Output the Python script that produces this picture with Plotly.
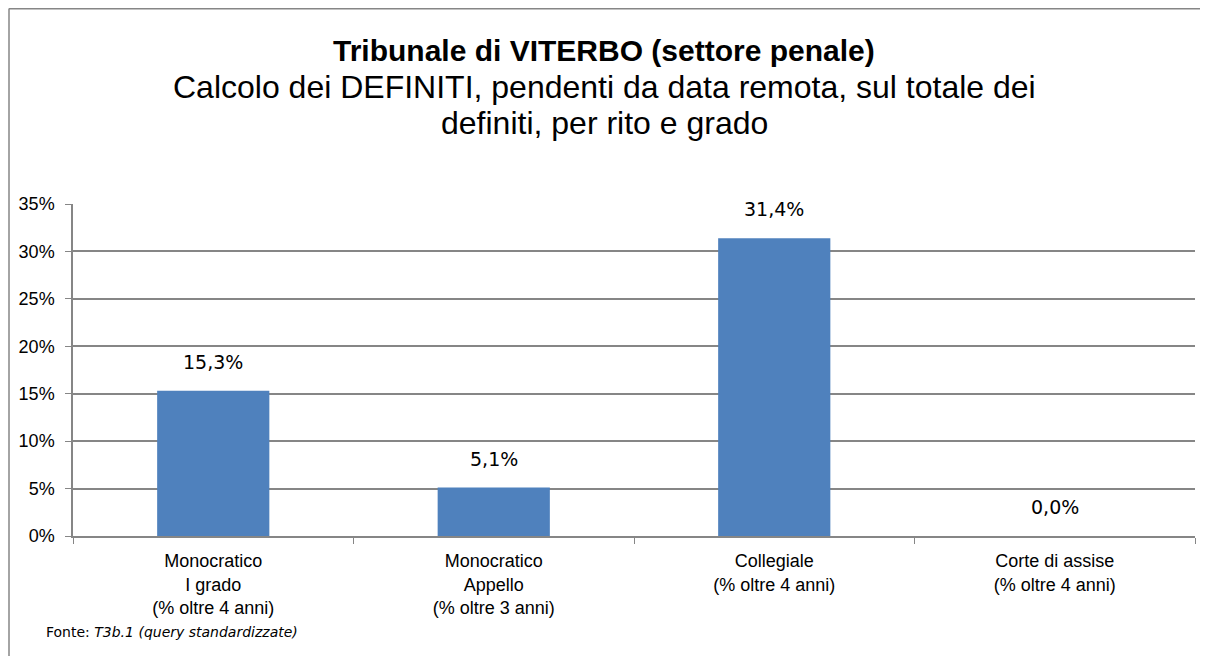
"""Tribunale di Viterbo: definiti pendenti da data remota per rito e grado."""

import plotly.graph_objects as go

categories = [
    "Monocratico<br>I grado<br>(% oltre 4 anni)",
    "Monocratico<br>Appello<br>(% oltre 3 anni)",
    "Collegiale<br>(% oltre 4 anni)",
    "Corte di assise<br>(% oltre 4 anni)",
]
values_pct = [15.3, 5.1, 31.4, 0.0]
y_ticks = [0, 5, 10, 15, 20, 25, 30, 35]
y_tick_labels = ["0%", "5%", "10%", "15%", "20%", "25%", "30%", "35%"]

# the page body has an 8px margin, so the figure starts at (8, 8)
OFF = 8
W, H = 1208 - OFF, 656 - OFF
PLOT_LEFT, PLOT_RIGHT, PLOT_TOP, PLOT_BOTTOM = 73, 1195, 204, 536
L = PLOT_LEFT - OFF
R = W - (PLOT_RIGHT - OFF)
T = PLOT_TOP - OFF
B = H - (PLOT_BOTTOM - OFF)
GRID = "#868686"


def px_x(px):
    """Page pixel x to paper coordinate."""
    return (px - PLOT_LEFT) / (PLOT_RIGHT - PLOT_LEFT)


def px_y(py):
    """Page pixel y to paper coordinate."""
    return (PLOT_BOTTOM - py) / (PLOT_BOTTOM - PLOT_TOP)


fig = go.Figure()

fig.add_trace(
    go.Bar(
        x=categories,
        y=values_pct,
        marker={"color": "#4f81bd", "line": {"width": 0}},
        hoverinfo="skip",
    )
)

value_labels = [
    {
        "text": f"{v:.1f}%".replace(".", ","),
        "x": c, "y": v,
        "xref": "x", "yref": "y",
        "yanchor": "bottom",
        "yshift": 16,
        "showarrow": False,
        "font": {"family": "Verdana, DejaVu Sans", "size": 19, "color": "#000000"},
    }
    for c, v in zip(categories, values_pct)
]

title_lines = [
    ("<b>Tribunale di VITERBO (settore penale)</b>", 50, 30),
    ("Calcolo dei DEFINITI, pendenti da data remota, sul totale dei", 87, 32),
    ("definiti, per rito e grado", 123, 32),
]
title_annotations = [
    {
        "text": text,
        "xref": "paper", "yref": "paper",
        "x": px_x(604), "y": px_y(ypos),
        "xanchor": "center", "yanchor": "middle",
        "showarrow": False,
        "font": {"size": size, "color": "#000000"},
    }
    for text, ypos, size in title_lines
]

source_note = {
    "text": "Fonte: <i>T3b.1 (query standardizzate)</i>",
    "xref": "paper", "yref": "paper",
    "x": px_x(44), "y": px_y(632),
    "xanchor": "left", "yanchor": "middle",
    "showarrow": False,
    "font": {"family": "Verdana, DejaVu Sans", "size": 14, "color": "#000000"},
}

fig.update_layout(
    width=W,
    height=H,
    margin={"l": L, "r": R, "t": T, "b": B, "pad": 0},
    paper_bgcolor="#ffffff",
    plot_bgcolor="#ffffff",
    showlegend=False,
    bargap=0.6,
    font={"family": "Arial, Liberation Sans", "size": 18, "color": "#000000"},
    xaxis={
        "type": "category",
        "showgrid": False,
        "showline": True,
        "linecolor": GRID,
        "linewidth": 1.5,
        "ticks": "outside",
        "tickson": "boundaries",
        "ticklen": 6,
        "tickcolor": GRID,
        "ticklabelstandoff": 8,
        "tickfont": {"size": 18},
    },
    yaxis={
        "range": [0, 35],
        "tickvals": y_ticks,
        "ticktext": y_tick_labels,
        "showgrid": True,
        "gridcolor": GRID,
        "gridwidth": 1.5,
        "showline": True,
        "linecolor": GRID,
        "linewidth": 1.5,
        "ticks": "outside",
        "ticklen": 6,
        "tickcolor": GRID,
        "ticklabelstandoff": 7,
        "zeroline": False,
        "tickfont": {"size": 18},
    },
    annotations=value_labels + title_annotations + [source_note],
    shapes=[
        {
            "type": "line", "xref": "paper", "yref": "paper",
            "x0": px_x(9), "x1": px_x(9), "y0": px_y(8.5), "y1": px_y(660),
            "line": {"color": GRID, "width": 1.5},
        },
        {
            "type": "line", "xref": "paper", "yref": "paper",
            "x0": px_x(9), "x1": px_x(1210), "y0": px_y(8.8), "y1": px_y(8.8),
            "line": {"color": GRID, "width": 1.5},
        },
    ],
)

fig.write_html("out.html")
